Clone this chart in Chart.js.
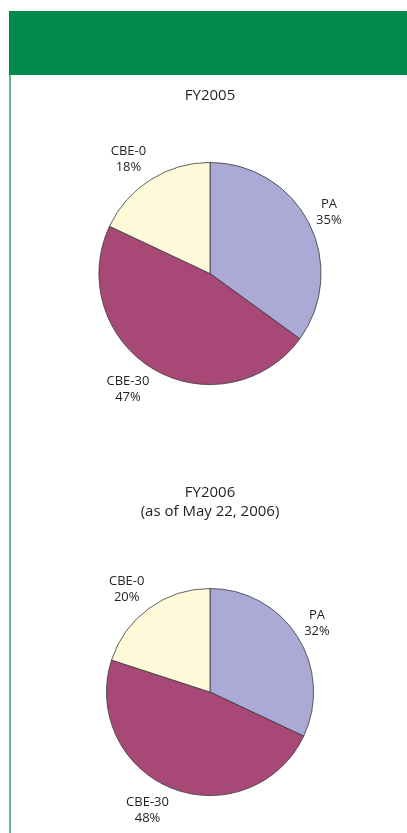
<!DOCTYPE html>
<html>
<head>
<meta charset="utf-8">
<script src="https://cdn.jsdelivr.net/npm/chart.js@4"></script>
<style>
  html,body{margin:0;padding:0;background:#fff;}
  body{width:407px;height:833px;position:relative;overflow:hidden;}
  #hdr{position:absolute;left:9px;top:11px;width:398px;height:64px;background:#00894b;}
  #vline{position:absolute;left:9px;top:75px;width:2px;height:758px;background:#5fb98c;}
  canvas{position:absolute;left:0;}
</style>
</head>
<body>
<div id="hdr"></div>
<div id="vline"></div>
<canvas id="c1" width="407" height="330" style="top:84px"></canvas>
<canvas id="c2" width="407" height="363" style="top:470px"></canvas>
<script>
const categories = ["PA", "CBE-30", "CBE-0"];
const values2005 = [35, 47, 18];
const values2006 = [32, 48, 20];
const title2005 = ["FY2005"];
const title2006 = ["FY2006", "(as of May 22, 2006)"];
const colors = ["#aba9d5", "#a84876", "#fef9d8"];

const FONT = "'Open Sans', 'Noto Sans', sans-serif";

const outerLabels = {
  id: "outerLabels",
  afterDatasetsDraw(chart) {
    const ctx = chart.ctx;
    const meta = chart.getDatasetMeta(0);
    const data = chart.data.datasets[0].data;
    const total = data.reduce((a, b) => a + b, 0);
    const lineGap = 16;
    const gap = 8;
    ctx.save();
    ctx.font = "13px " + FONT;
    ctx.fillStyle = "#231f20";
    ctx.textAlign = "center";
    ctx.textBaseline = "middle";
    meta.data.forEach((arc, i) => {
      const p = arc.getProps(["x", "y", "startAngle", "endAngle", "outerRadius"], true);
      const mid = (p.startAngle + p.endAngle) / 2;
      const c = Math.cos(mid), s = Math.sin(mid);
      const name = chart.data.labels[i];
      const pct = Math.round(data[i] / total * 100) + "%";
      const w = Math.max(ctx.measureText(name).width, ctx.measureText(pct).width);
      const h = lineGap * 2;
      const r = p.outerRadius + gap;
      const x = p.x + c * r + Math.sign(c) * w / 2;
      const y = p.y + s * r + s * h / 2;
      ctx.fillText(name, x, y - lineGap / 2);
      ctx.fillText(pct, x, y + lineGap / 2);
    });
    ctx.restore();
  }
};

function makePie(id, values, titleLines, titlePad, layoutPad) {
  return new Chart(document.getElementById(id), {
    type: "pie",
    data: {
      labels: categories,
      datasets: [{
        data: values,
        backgroundColor: colors,
        borderColor: "#3a3a3a",
        borderWidth: 0.8
      }]
    },
    options: {
      responsive: false,
      animation: false,
      rotation: 0,
      layout: { padding: layoutPad },
      plugins: {
        legend: { display: false },
        tooltip: { enabled: false },
        title: {
          display: true,
          text: titleLines,
          color: "#231f20",
          font: { family: FONT, size: 15, weight: "normal", lineHeight: 1.27 },
          padding: titlePad
        }
      }
    },
    plugins: [outerLabels]
  });
}

makePie("c1", values2005, title2005, { top: 2.5, bottom: 56.5 }, { left: 13, right: 0, top: 0, bottom: 29 });
makePie("c2", values2006, title2006, { top: 13.5, bottom: 66.5 }, { left: 13, right: 0, top: 0, bottom: 37 });
</script>
</body>
</html>
